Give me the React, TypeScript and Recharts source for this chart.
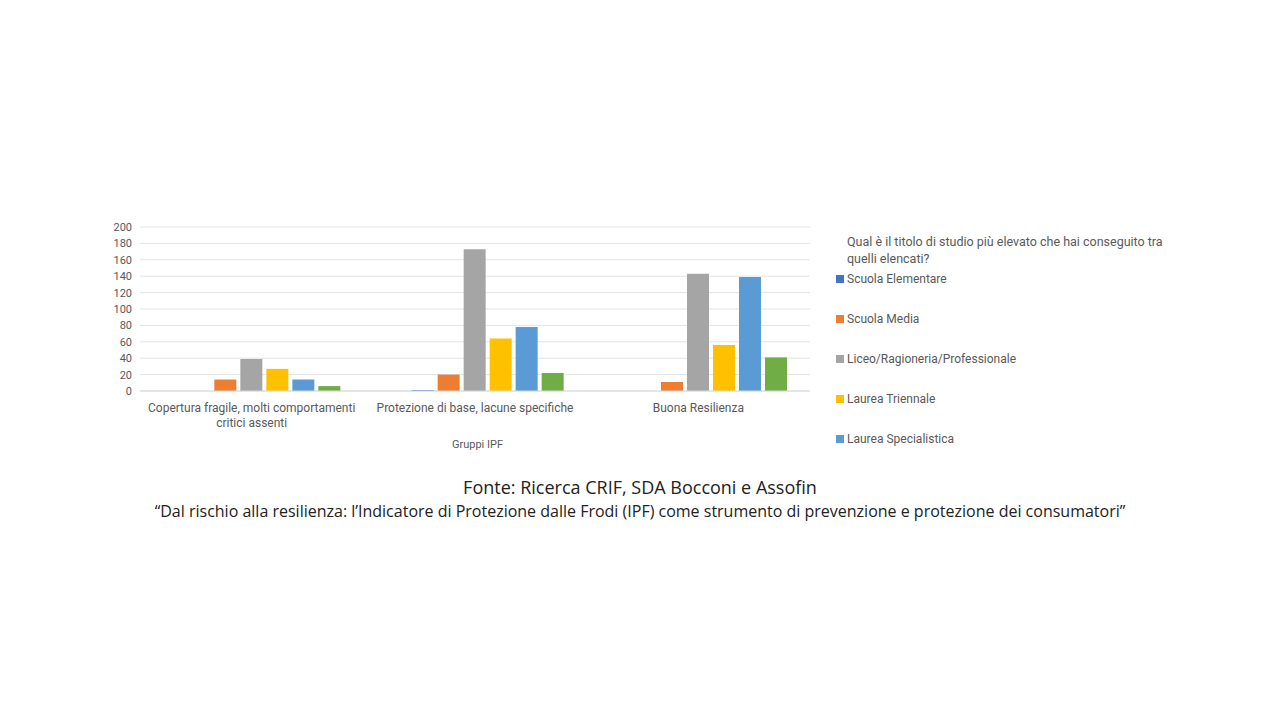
import React from 'react';
import { BarChart, Bar, XAxis, YAxis, CartesianGrid } from 'recharts';

const groups = [
  'Copertura fragile, molti comportamenti critici assenti',
  'Protezione di base, lacune specifiche',
  'Buona Resilienza',
];
const elementare = [0, 1, 0];
const media = [14, 20, 11];
const liceo = [39, 173, 143];
const triennale = [27, 64, 56];
const specialistica = [14, 78, 139];
const master = [6, 22, 41];
// empty slot that Excel leaves before the first series (not shown in legend)
const spacer = [0, 0, 0];

const series = [
  { key: 'elementare', name: 'Scuola Elementare', color: '#4472C4', values: elementare },
  { key: 'media', name: 'Scuola Media', color: '#ED7D31', values: media },
  { key: 'liceo', name: 'Liceo/Ragioneria/Professionale', color: '#A5A5A5', values: liceo },
  { key: 'triennale', name: 'Laurea Triennale', color: '#FFC000', values: triennale },
  { key: 'specialistica', name: 'Laurea Specialistica', color: '#5B9BD5', values: specialistica },
  { key: 'master', name: 'Master/Dottorato', color: '#70AD47', values: master },
];

const yTicks = [0, 20, 40, 60, 80, 100, 120, 140, 160, 180, 200];

const data = groups.map((g, i) => {
  const row: Record<string, string | number> = { group: g, spacer: spacer[i] };
  series.forEach((s) => (row[s.key] = s.values[i]));
  return row;
});

const font = 'Roboto, "Noto Sans", sans-serif';

const CategoryTick = (props: any) => {
  const { x, y, payload } = props;
  const label: string = payload.value;
  const lines = label.startsWith('Copertura')
    ? ['Copertura fragile, molti comportamenti', 'critici assenti']
    : [label];
  return (
    <g>
      {lines.map((l, i) => (
        <text key={i} x={x} y={y + 13 + i * 15} textAnchor="middle" fontSize={12} fill="#595959" fontFamily={font}>
          {l}
        </text>
      ))}
    </g>
  );
};

export default function App() {
  return (
    <div style={{ position: 'absolute', left: 0, top: 0, width: 1280, height: 720, background: '#fff', fontFamily: font }}>
      <BarChart
        width={1280}
        height={470}
        data={data}
        margin={{ top: 227, right: 470, left: 100, bottom: 19 }}
        barCategoryGap="10%"
        barGap={4}
      >
        <CartesianGrid vertical={false} stroke="#e3e3e3" />
        <XAxis dataKey="group" tick={<CategoryTick />} tickLine={false} axisLine={{ stroke: '#d9d9d9' }} height={60} interval={0} />
        <YAxis
          width={40}
          domain={[0, 200]}
          ticks={yTicks}
          interval={0}
          tick={{ fontSize: 11, fill: '#595959', fontFamily: font }}
          tickLine={false}
          axisLine={false}
        />
        <Bar dataKey="spacer" fill="transparent" isAnimationActive={false} />
        {series.map((s) => (
          <Bar key={s.key} dataKey={s.key} name={s.name} fill={s.color} isAnimationActive={false} />
        ))}
      </BarChart>
      <div style={{ position: 'absolute', left: 0, width: 955, top: 438, textAlign: 'center', fontSize: 11, color: '#595959' }}>
        Gruppi IPF
      </div>
      <div style={{ position: 'absolute', left: 847, top: 233, width: 340, fontSize: 12.5, color: '#595959', lineHeight: '17px' }}>
        Qual è il titolo di studio più elevato che hai conseguito tra quelli elencati?
      </div>
      {series.slice(0, 5).map((s, i) => (
        <div
          key={s.key}
          style={{ position: 'absolute', left: 836, top: 272 + i * 40, fontSize: 12, color: '#595959', display: 'flex', alignItems: 'center' }}
        >
          <span style={{ display: 'inline-block', width: 8, height: 8, background: s.color, marginRight: 3 }} />
          {s.name}
        </div>
      ))}
      <div style={{ position: 'absolute', left: 0, width: 1280, top: 475, textAlign: 'center', fontSize: 18, color: '#222', fontFamily: '"Open Sans", sans-serif' }}>
        Fonte: Ricerca CRIF, SDA Bocconi e Assofin
      </div>
      <div style={{ position: 'absolute', left: 0, width: 1280, top: 500, textAlign: 'center', fontSize: 16, color: '#222', fontFamily: '"Open Sans", sans-serif' }}>
        “Dal rischio alla resilienza: l’Indicatore di Protezione dalle Frodi (IPF) come strumento di prevenzione e protezione dei consumatori”
      </div>
    </div>
  );
}
